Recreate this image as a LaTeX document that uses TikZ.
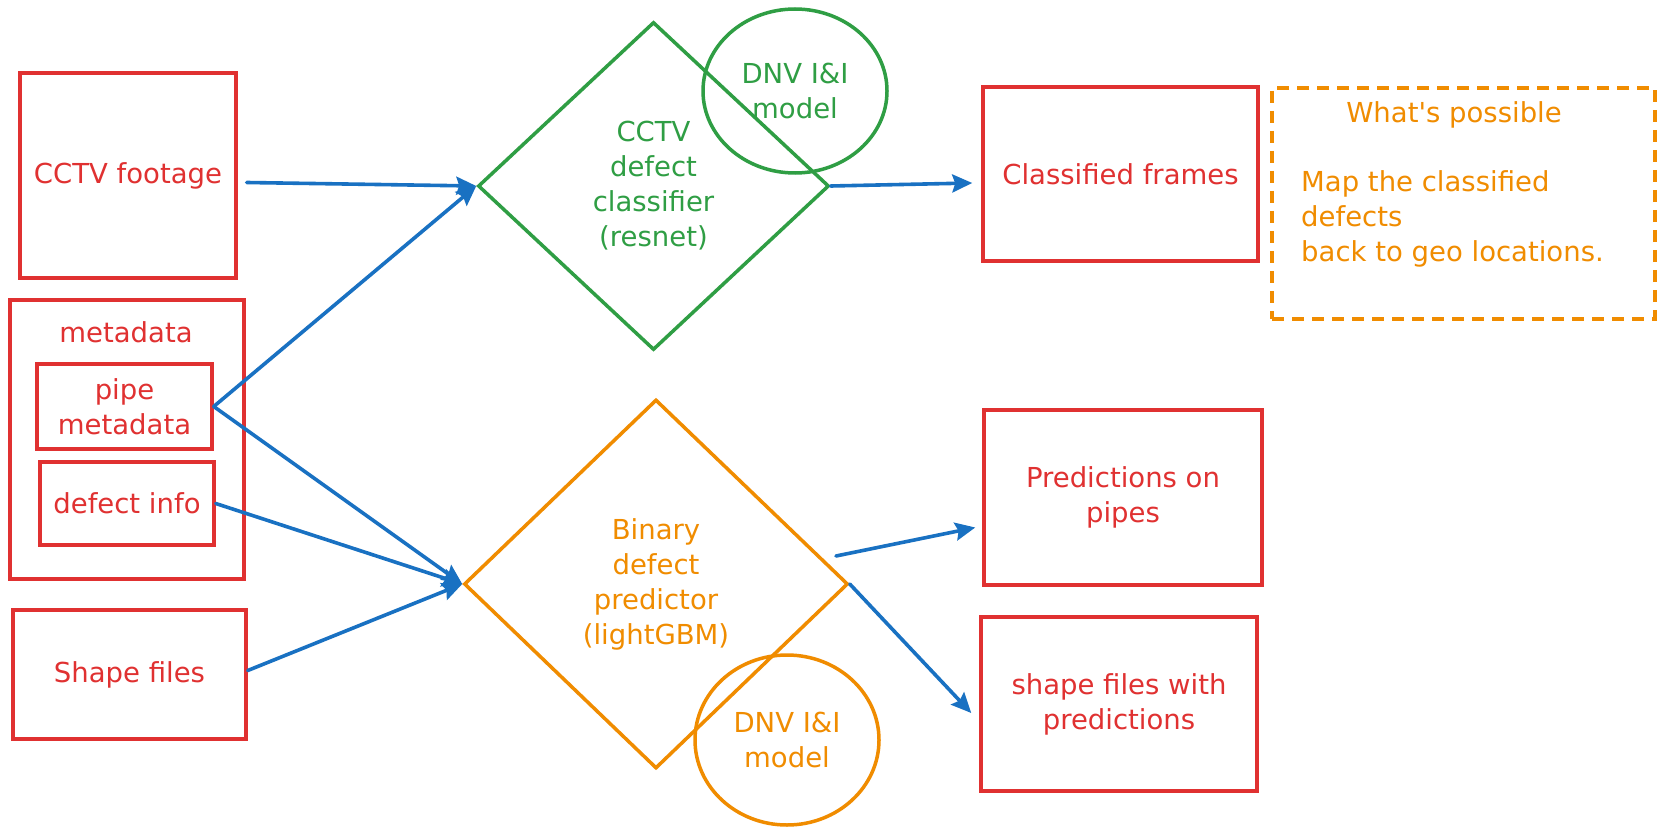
\documentclass[tikz,border=0pt]{standalone}
\usepackage{fontspec}
\setmainfont{DejaVu Sans}
\newfontfamily\xf{DejaVu Sans}
\usetikzlibrary{arrows.meta,shapes.geometric}
\definecolor{xred}{HTML}{E03131}
\definecolor{xgreen}{HTML}{2F9E44}
\definecolor{xorange}{HTML}{F08C00}
\definecolor{xblue}{HTML}{1971C2}
\newcommand\xfs{\xf\fontsize{27.5pt}{35pt}\selectfont}
\begin{document}
\begin{tikzpicture}[x=1pt,y=-1pt,
  redbox/.style={draw=xred, line width=3.5pt, text=xred, font=\xfs, align=center, inner sep=0pt},
  gshape/.style={draw=xgreen, line width=3.5pt, text=xgreen, font=\xfs, align=center, inner sep=0pt},
  oshape/.style={draw=xorange, line width=3.5pt, text=xorange, font=\xfs, align=center, inner sep=0pt},
  otext/.style={text=xorange, font=\xfs, inner sep=0pt},
  arr/.style={draw=xblue, line width=3.6pt, line cap=round, -{Stealth[length=20pt,width=18pt,inset=3pt]}}
]
\useasboundingbox (0,0) rectangle (1664,829);
\fill[white] (0,0) rectangle (1664,829);

% left inputs
\node[redbox, minimum width=216pt, minimum height=205pt] (cctv) at (128,175.5) {CCTV footage};
\node[redbox, minimum width=234pt, minimum height=279pt] (meta) at (127,439.5) {};
\node[text=xred, font=\xfs, inner sep=0pt] (metal) at (126,332) {metadata};
\node[redbox, minimum width=175pt, minimum height=85pt] (pm) at (124.5,406.5) {pipe\\metadata};
\node[redbox, minimum width=174pt, minimum height=83pt] (di) at (127,503.5) {defect info};
\node[redbox, minimum width=233pt, minimum height=129pt] (shp) at (129.5,674.5) {Shape files};

% classifiers
\node[gshape, shape=diamond, minimum width=351pt, minimum height=328pt] (cls) at (653.5,186) {CCTV\\defect\\classifier\\(resnet)};
\node[gshape, shape=ellipse, minimum width=184pt, minimum height=164pt] (gm) at (795,91) {DNV I\&I\\model};
\node[oshape, shape=diamond, minimum width=384pt, minimum height=369pt] (bin) at (656,584) {Binary\\defect\\predictor\\(lightGBM)};
\node[oshape, shape=ellipse, minimum width=184pt, minimum height=170pt] (om) at (787,740) {DNV I\&I\\model};

% outputs
\node[redbox, minimum width=275pt, minimum height=174pt] (cf) at (1120.5,174) {Classified frames};
\node[redbox, minimum width=278pt, minimum height=175pt] (pred) at (1123,497.5) {Predictions on\\pipes};
\node[redbox, minimum width=276pt, minimum height=174pt] (sfp) at (1119,704) {shape files with\\predictions};

% what's possible
\node[draw=xorange, line width=3.5pt, dash pattern=on 12pt off 8pt, minimum width=383pt, minimum height=231pt, inner sep=0pt] (wp) at (1463.5,203.5) {};
\node[otext] (wpt) at (1454,115) {What's possible};
\node[otext, align=left, anchor=west] (wpb) at (1301,219) {Map the classified\\defects\\back to geo locations.};

% connectors
\draw[arr] ([xshift=9pt,yshift=-7pt]cctv.east) -- (cls.west);
\draw[arr] (pm.east) -- (cls.west);
\draw[arr] (pm.east) -- (bin.west);
\draw[arr] (di.east) -- (bin.west);
\draw[arr] ([yshift=4pt]shp.east) -- (bin.west);
\draw[arr] (cls.east) -- ([xshift=-9pt,yshift=-9pt]cf.west);
\draw[arr] ([xshift=180pt,yshift=28pt]bin.center) -- ([xshift=-7pt,yshift=-30pt]pred.west);
\draw[arr] (bin.east) -- ([xshift=-8pt,yshift=-9pt]sfp.west);
\end{tikzpicture}
\end{document}
